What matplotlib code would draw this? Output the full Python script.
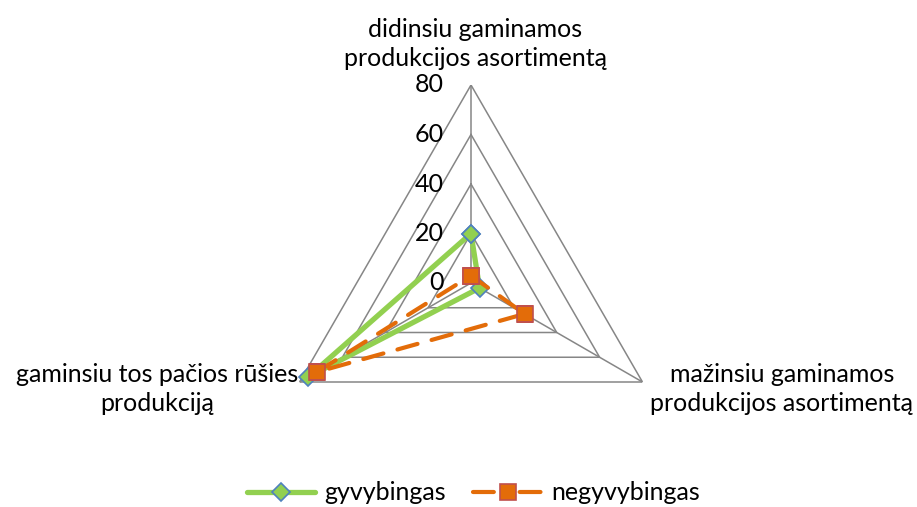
import numpy as np
import matplotlib
matplotlib.use("Agg")
import matplotlib.pyplot as plt
from matplotlib.lines import Line2D

categories = ["didinsiu gaminamos\nprodukcijos asortimentą",
              "mažinsiu gaminamos\nprodukcijos asortimentą",
              "gaminsiu tos pačios rūšies\nprodukciją"]
series_names = ["gyvybingas", "negyvybingas"]
gyvybingas = [20, 4, 76]
negyvybingas = [3, 25, 72]
ticks = [0, 20, 40, 60, 80]

plt.rcParams['font.family'] = ['Lato', 'DejaVu Sans']

W, H, DPI = 917, 507, 100
fig = plt.figure(figsize=(W / DPI, H / DPI), dpi=DPI)

cx, cy, R = 471, 283, 198
ax = fig.add_axes([(cx - R) / W, (H - cy - R) / H, 2 * R / W, 2 * R / H], projection='polar')
ax.set_theta_offset(np.pi / 2)
ax.set_theta_direction(-1)
ax.set_ylim(0, 80)
ax.grid(False)
ax.spines['polar'].set_visible(False)
ax.set_xticks([])
ax.set_yticks([])
ax.patch.set_alpha(0)

n = len(categories)
angles = np.arange(n) * 2 * np.pi / n
closed = np.append(angles, angles[0])

gridc = '#868686'
for t in ticks[1:]:
    ax.plot(closed, [t] * (n + 1), color=gridc, lw=1.1, zorder=1)
for a in angles:
    ax.plot([a, a], [0, ticks[-1]], color=gridc, lw=1.1, zorder=1)

for t in ticks:
    ax.annotate(str(t), xy=(0, t), xytext=(-19.5, 0), textcoords='offset points',
                ha='right', va='center', fontsize=18, color='black')

green = '#92D050'
orange = '#E36C09'
ax.plot(closed, gyvybingas + gyvybingas[:1], color=green, lw=3.8,
        solid_joinstyle='round', solid_capstyle='round',
        marker='D', markersize=9, markerfacecolor=green,
        markeredgecolor='#4F81BD', markeredgewidth=1.2, zorder=3)
ax.plot(closed, negyvybingas + negyvybingas[:1], color=orange, lw=3.0,
        linestyle=(0, (5, 3.5)), dash_capstyle='round', dash_joinstyle='round',
        marker='s', markersize=12, markerfacecolor=orange,
        markeredgecolor='#C0504D', markeredgewidth=1.2, zorder=4)

lab_pos = [(475, 44), (782, 389), (157, 389)]
for (px, py), txt in zip(lab_pos, categories):
    fig.text(px / W, 1 - py / H, txt, ha='center', va='center',
             fontsize=18, linespacing=1.28, color='black')

handles = [Line2D([], [], color=green, lw=3.8, solid_capstyle='round', marker='D', markersize=9,
                  markerfacecolor=green, markeredgecolor='#4F81BD', markeredgewidth=1.2),
           Line2D([], [], color=orange, lw=3.0, linestyle=(0, (5.0, 6.2)), dash_capstyle='round',
                  marker='s', markersize=12, markerfacecolor=orange,
                  markeredgecolor='#C0504D', markeredgewidth=1.2)]
fig.legend(handles, series_names, loc='center', bbox_to_anchor=(0.516, 1 - 493 / H),
           ncol=2, frameon=False, fontsize=18, handlelength=2.75, columnspacing=1.1,
           handletextpad=0.35)

fig.savefig('out.png', dpi=DPI)
